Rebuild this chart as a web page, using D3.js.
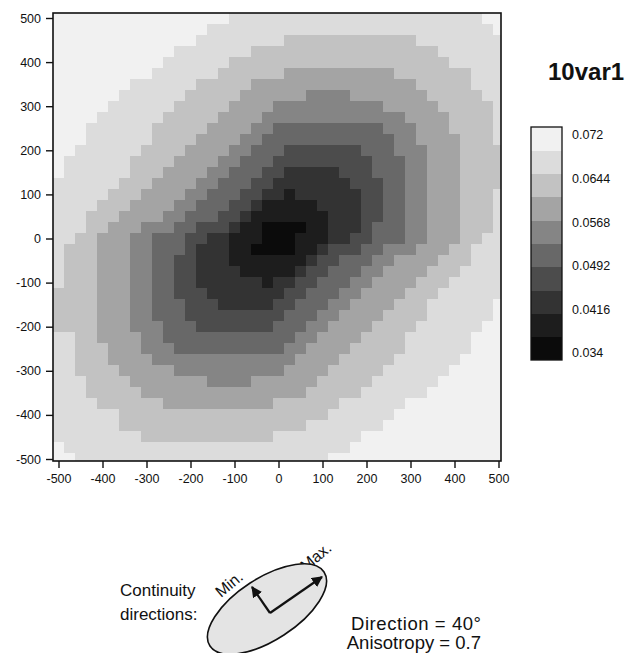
<!DOCTYPE html>
<html>
<head>
<meta charset="utf-8">
<script src="https://cdn.jsdelivr.net/npm/d3@7"></script>
<style>
  body { margin: 0; background: #fff; }
  svg { display: block; }
  text { font-family: "Liberation Sans", Arial, sans-serif; }
</style>
</head>
<body>
<svg id="chart" width="629" height="653"></svg>
<script>
// Lag coordinates of the variogram-map cells (cell centres, 25-unit spacing)
const lagX = [-500,-475,-450,-425,-400,-375,-350,-325,-300,-275,-250,-225,-200,-175,-150,-125,-100,-75,-50,-25,0,
              25,50,75,100,125,150,175,200,225,250,275,300,325,350,375,400,425,450,475,500];
const lagY = [500,475,450,425,400,375,350,325,300,275,250,225,200,175,150,125,100,75,50,25,0,
              -25,-50,-75,-100,-125,-150,-175,-200,-225,-250,-275,-300,-325,-350,-375,-400,-425,-450,-475,-500];

// Class breaks of the semivariance legend (10 equal classes)
const classBreaks = [0.034, 0.0378, 0.0416, 0.0454, 0.0492, 0.053, 0.0568, 0.0606, 0.0644, 0.0682, 0.072];
const legendLabels = ["0.072", "0.0644", "0.0568", "0.0492", "0.0416", "0.034"];
const classGrays = ["#0b0b0b", "#1d1d1d", "#333333", "#4c4c4c", "#686868", "#858585",
                    "#a4a4a4", "#c2c2c2", "#dcdcdc", "#f1f1f1"];

// Semivariance class of every cell, one row per y-lag (top row = +500),
// run-length coded as "class x count", columns running from x = -500 to +500.
const classRows = [
  "9x16 8x23 9x2",
  "9x14 8x26 9x1",
  "9x13 8x8 7x12 8x8",
  "9x11 8x7 7x17 8x6",
  "9x10 8x6 7x20 8x5",
  "9x9 8x6 7x6 6x10 7x7 8x3",
  "9x7 8x6 7x5 6x15 7x5 8x3",
  "9x6 8x6 7x5 6x6 5x4 6x7 7x5 8x2",
  "9x5 8x6 7x5 6x4 5x10 6x5 7x5 8x1",
  "9x4 8x6 7x5 6x4 5x13 6x4 7x4 8x1",
  "9x3 8x6 7x5 6x4 5x2 4x10 5x3 6x3 7x4 8x1",
  "9x3 8x6 7x4 6x4 5x2 4x12 5x2 6x4 7x3 8x1",
  "9x2 8x6 7x4 6x4 5x2 4x3 3x7 4x3 5x3 6x3 7x4",
  "9x1 8x6 7x4 6x4 5x2 4x3 3x9 4x3 5x2 6x3 7x4",
  "9x1 8x6 7x3 6x4 5x2 4x3 3x2 2x5 3x3 4x3 5x2 6x3 7x4",
  "8x6 7x3 6x4 5x2 4x3 3x2 2x7 3x3 4x2 5x2 6x3 7x4",
  "8x5 7x3 6x4 5x2 4x3 3x2 2x2 1x1 2x6 3x2 4x2 5x2 6x3 7x3 8x1",
  "8x4 7x3 6x4 5x2 4x3 3x2 2x1 1x5 2x4 3x2 4x2 5x2 6x3 7x3 8x1",
  "8x3 7x3 6x4 5x2 4x3 3x2 2x1 1x7 2x3 3x2 4x2 5x2 6x3 7x3 8x1",
  "8x3 7x2 6x3 5x3 4x2 3x3 2x1 1x2 0x4 1x2 2x3 3x1 4x3 5x2 6x3 7x3 8x1",
  "8x2 7x2 6x3 5x2 4x3 3x2 2x2 1x3 0x3 1x3 2x2 3x2 4x3 5x2 6x3 7x2 8x2",
  "8x1 7x3 6x3 5x2 4x3 3x1 2x3 1x2 0x4 1x2 2x1 3x3 4x2 5x3 6x3 7x2 8x3",
  "8x1 7x3 6x3 5x2 4x2 3x2 2x3 1x7 2x1 3x2 4x3 5x2 6x4 7x3 8x3",
  "8x1 7x3 6x3 5x2 4x2 3x2 2x4 1x5 2x1 3x2 4x3 5x2 6x4 7x3 8x4",
  "8x1 7x3 6x3 5x2 4x2 3x2 2x6 1x1 2x2 3x2 4x3 5x2 6x4 7x3 8x5",
  "7x4 6x3 5x2 4x2 3x3 2x7 3x2 4x3 5x2 6x4 7x3 8x6",
  "7x4 6x3 5x2 4x3 3x3 2x5 3x2 4x3 5x2 6x4 7x3 8x6 9x1",
  "7x4 6x3 5x2 4x3 3x9 4x3 5x2 6x4 7x4 8x6 9x1",
  "7x4 6x3 5x3 4x3 3x7 4x3 5x2 6x4 7x4 8x6 9x2",
  "8x2 7x2 6x4 5x2 4x12 5x2 6x4 7x4 8x6 9x3",
  "8x2 7x3 6x3 5x3 4x10 5x2 6x4 7x5 8x6 9x3",
  "8x2 7x3 6x4 5x13 6x4 7x5 8x6 9x4",
  "8x2 7x4 6x5 5x10 6x4 7x5 8x6 9x5",
  "8x3 7x4 6x7 5x4 6x6 7x5 8x6 9x6",
  "8x3 7x5 6x15 7x5 8x6 9x7",
  "8x4 7x6 6x10 7x6 8x6 9x9",
  "8x6 7x19 8x6 9x10",
  "8x6 7x17 8x7 9x11",
  "8x8 7x12 8x8 9x13",
  "9x1 8x26 9x14",
  "9x2 8x23 9x16"
];

const xTicks = [-500, -400, -300, -200, -100, 0, 100, 200, 300, 400, 500];
const yTicks = [-500, -400, -300, -200, -100, 0, 100, 200, 300, 400, 500];

const svg = d3.select("#chart");

// Plot frame (pixels) and lag scales
const frame = { left: 53, right: 501, top: 13, bottom: 461 };
const x = d3.scaleLinear().domain([-500, 500]).range([58.5, 498.5]);
const y = d3.scaleLinear().domain([-500, 500]).range([459, 18]);
const half = 12.5;

const color = d3.scaleQuantize()
  .domain([classBreaks[0], classBreaks[classBreaks.length - 1]])
  .range(classGrays);

// Decode the rows into cells carrying a semivariance value (class midpoint)
const cells = [];
classRows.forEach((row, r) => {
  let c = 0;
  row.split(" ").forEach(run => {
    const [k, n] = run.split("x").map(Number);
    const value = (classBreaks[k] + classBreaks[k + 1]) / 2;
    for (let i = 0; i < n; i++) {
      cells.push({ hx: lagX[c], hy: lagY[r], value });
      c++;
    }
  });
});

svg.append("clipPath").attr("id", "plot-clip")
  .append("rect")
  .attr("x", frame.left).attr("y", frame.top)
  .attr("width", frame.right - frame.left).attr("height", frame.bottom - frame.top);

svg.append("g")
  .attr("clip-path", "url(#plot-clip)")
  .attr("shape-rendering", "crispEdges")
  .selectAll("rect")
  .data(cells)
  .join("rect")
  .attr("x", d => x(d.hx - half))
  .attr("y", d => y(d.hy + half))
  .attr("width", d => x(d.hx + half) - x(d.hx - half) + 0.4)
  .attr("height", d => y(d.hy - half) - y(d.hy + half) + 0.4)
  .attr("fill", d => color(d.value));

// Frame
svg.append("rect")
  .attr("x", frame.left).attr("y", frame.top)
  .attr("width", frame.right - frame.left).attr("height", frame.bottom - frame.top)
  .attr("fill", "none").attr("stroke", "#111").attr("stroke-width", 1.6);

// Axes (plain hyphen-minus in the tick labels)
const tickFmt = d => String(d);
const xAxis = svg.append("g")
  .attr("transform", `translate(0,${frame.bottom})`)
  .call(d3.axisBottom(x).tickValues(xTicks).tickFormat(tickFmt).tickSize(7).tickSizeOuter(0).tickPadding(6));
const yAxis = svg.append("g")
  .attr("transform", `translate(${frame.left},0)`)
  .call(d3.axisLeft(y).tickValues(yTicks).tickFormat(tickFmt).tickSize(7).tickSizeOuter(0).tickPadding(5));
[xAxis, yAxis].forEach(g => {
  g.select(".domain").remove();
  g.selectAll(".tick line").attr("stroke", "#111").attr("stroke-width", 1.4);
  g.selectAll(".tick text")
    .attr("font-family", "'Liberation Sans', Arial, sans-serif")
    .attr("font-size", 12.5).attr("fill", "#111");
});

// Title
svg.append("text")
  .attr("x", 548).attr("y", 80)
  .attr("font-size", 24).attr("font-weight", "bold").attr("fill", "#111")
  .text("10var1");

// Legend: classes stacked from highest (top) to lowest (bottom)
const legend = { x: 531, y: 127, w: 31, h: 233 };
const legendY = d3.scaleLinear()
  .domain([classBreaks[classBreaks.length - 1], classBreaks[0]])
  .range([legend.y, legend.y + legend.h]);
const legendClasses = d3.range(classBreaks.length - 1).map(k => ({
  lo: classBreaks[k], hi: classBreaks[k + 1], value: (classBreaks[k] + classBreaks[k + 1]) / 2
}));
svg.append("g").attr("shape-rendering", "crispEdges")
  .selectAll("rect").data(legendClasses).join("rect")
  .attr("x", legend.x)
  .attr("y", d => legendY(d.hi))
  .attr("width", legend.w)
  .attr("height", d => legendY(d.lo) - legendY(d.hi) + 0.4)
  .attr("fill", d => color(d.value));
svg.append("rect")
  .attr("x", legend.x).attr("y", legend.y)
  .attr("width", legend.w).attr("height", legend.h)
  .attr("fill", "none").attr("stroke", "#111").attr("stroke-width", 1.3);

const labelY = d3.scalePoint().domain(legendLabels).range([legend.y + 8, legend.y + legend.h - 7]);
svg.append("g").selectAll("text").data(legendLabels).join("text")
  .attr("x", 572)
  .attr("y", d => labelY(d))
  .attr("dy", "0.35em")
  .attr("font-size", 12.5).attr("fill", "#111")
  .text(d => d);

// Continuity-direction sketch
const note = svg.append("g").attr("fill", "#111");
note.append("text").attr("x", 120).attr("y", 596).attr("font-size", 17).text("Continuity");
note.append("text").attr("x", 120).attr("y", 620).attr("font-size", 17).text("directions:");

const ell = { cx: 267, cy: 609, rx: 68, ry: 31, angle: -33 };
svg.append("ellipse")
  .attr("cx", ell.cx).attr("cy", ell.cy).attr("rx", ell.rx).attr("ry", ell.ry)
  .attr("transform", `rotate(${ell.angle},${ell.cx},${ell.cy})`)
  .attr("fill", "#e4e4e4").attr("stroke", "#111").attr("stroke-width", 1.6);

svg.append("defs").append("marker")
  .attr("id", "arrow").attr("viewBox", "0 0 10 10")
  .attr("refX", 9).attr("refY", 5)
  .attr("markerWidth", 5).attr("markerHeight", 5)
  .attr("markerUnits", "strokeWidth")
  .attr("orient", "auto")
  .append("path").attr("d", "M0,0 L10,5 L0,10 Z").attr("fill", "#111");

const origin = [270, 613];
const arrows = [[322, 577], [252, 587]];
svg.append("g").selectAll("line").data(arrows).join("line")
  .attr("x1", origin[0]).attr("y1", origin[1])
  .attr("x2", d => d[0]).attr("y2", d => d[1])
  .attr("stroke", "#111").attr("stroke-width", 2.2)
  .attr("marker-end", "url(#arrow)");

note.append("text").attr("font-size", 16)
  .attr("transform", "translate(221,598) rotate(-40)").text("Min.");
note.append("text").attr("font-size", 16)
  .attr("transform", "translate(306,572) rotate(-40)").text("Max.");

note.append("text").attr("x", 481).attr("y", 630).attr("text-anchor", "end")
  .attr("font-size", 18.5).attr("textLength", 130).attr("lengthAdjust", "spacing")
  .text("Direction = 40°");
note.append("text").attr("x", 481).attr("y", 649).attr("text-anchor", "end")
  .attr("font-size", 18.5).text("Anisotropy = 0.7");
</script>
</body>
</html>
